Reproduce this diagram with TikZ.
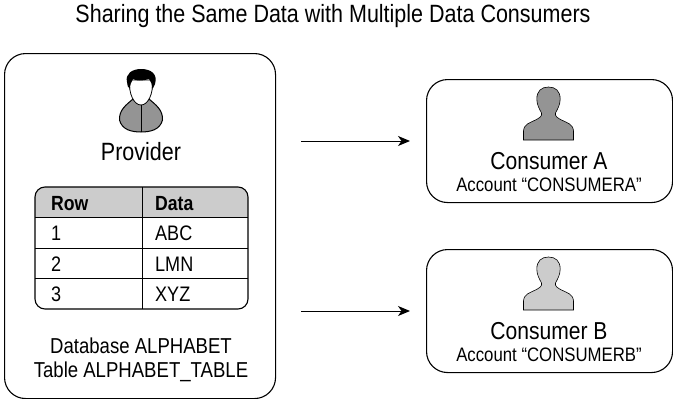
\documentclass[tikz,border=0pt]{standalone}
\usepackage{fontspec}
\setmainfont[FakeStretch=0.86]{Liberation Sans}
\usetikzlibrary{
	arrows.meta,
	calc,
	positioning,
}
\definecolor{darkfill}{gray}{.58}
\definecolor{lightfill}{gray}{.8}
\tikzset{panel/.style={draw,rounded corners=21,line width=1.1pt,inner sep=0,anchor=north west,}}
\tikzset{plain/.style={inner sep=0,font=\fontsize{24.5}{28}\selectfont,}}
\tikzset{small/.style={inner sep=0,font=\fontsize{19.5}{22}\selectfont,}}
\tikzset{cell/.style={inner sep=0,anchor=base west,font=\fontsize{21}{24}\selectfont,}}
\tikzset{head/.style={cell,font=\fontsize{20.5}{24}\selectfont\bfseries,}}
\tikzset{
	>={Stealth[length=12pt,width=10pt,inset=3.5pt]},
	x=1pt,
	y=-1pt,
	pics/consumer/.style={code={
		\draw[fill=#1,line width=.6pt] (-25,53) -- (-25,44) .. controls (-24.5,37) and (-19,36) .. (-13,33)
			.. controls (-9,31) and (-6,29) .. (-7,26) .. controls (-9,22) and (-11.7,18) .. (-11.7,12)
			.. controls (-11.7,4) and (-7,0) .. (0,0) .. controls (7,0) and (11.7,4) .. (11.7,12)
			.. controls (11.7,18) and (9,22) .. (7,26) .. controls (6,29) and (9,31) .. (13,33)
			.. controls (19,36) and (24.5,37) .. (25,44) -- (25,53) -- cycle;
	}},
}

\begin{document}
\begin{tikzpicture}
\useasboundingbox (0,0) rectangle (673,399);

\node[plain,font=\fontsize{25}{28}\selectfont] (title) at(333,16) {Sharing the Same Data with Multiple Data Consumers};

\node[panel,minimum width=271,minimum height=345] (provider) at(4,53) {};
\node[panel,minimum width=246,minimum height=123] (boxa) at(426,79) {};
\node[panel,minimum width=246,minimum height=123] (boxb) at(426,249) {};

% provider figure
\draw[fill=darkfill,line width=1pt] (119.5,120) .. controls (119,110) and (126,105) .. (133,99) -- (149,99)
	.. controls (156,105) and (163,110) .. (162.5,120) .. controls (160,130) and (150,132) .. (141,132)
	.. controls (132,132) and (122,130) .. (119.5,120) -- cycle;
\draw[line width=.8pt] (141,104) -- (141,132);
\draw[fill=white,line width=.8pt] (129.5,80) .. controls (128.5,94) and (134,105) .. (141,105)
	.. controls (148,105) and (153.5,94) .. (152.5,80) -- cycle;
\fill (127,82) .. controls (125,74) and (132,69) .. (141,69) .. controls (151,69) and (158,74) .. (155,84)
	.. controls (154,87) and (153,88) .. (152,89) .. controls (152,84) and (151,81) .. (149,79)
	.. controls (143,81) and (136,81) .. (133,79) .. controls (131,82) and (130,85) .. (130,89)
	.. controls (128,88) and (127,85) .. (127,82) -- cycle;
\node[plain,font=\fontsize{25}{28}\selectfont] (providername) at(141,152) {Provider};

% table
\begin{scope}
\clip[rounded corners=10] (35,187) rectangle (248,309);
\fill[lightfill] (35,187) rectangle (248,217);
\end{scope}
\draw[line width=1pt] (35,217) -- (248,217);
\draw[line width=1pt] (35,248) -- (248,248);
\draw[line width=1pt] (35,278) -- (248,278);
\draw[line width=1pt] (142,187) -- (142,309);
\draw[line width=1.1pt,rounded corners=10] (35,187) rectangle (248,309);

\node[head] (rowhead) at(51,210) {Row};
\node[head] (datahead) at(155,210) {Data};
\node[cell] (row1) at(51,240) {1};
\node[cell] (data1) at(155,240) {ABC};
\node[cell] (row2) at(51,271) {2};
\node[cell] (data2) at(155,271) {LMN};
\node[cell] (row3) at(51,301) {3};
\node[cell] (data3) at(155,301) {XYZ};

\node[small,font=\fontsize{21.6}{24}\selectfont] (dbname) at(141,346) {Database ALPHABET};
\node[small,font=\fontsize{21.6}{24}\selectfont] (tablename) at(141,372) {Table ALPHABET\_TABLE};

% consumers
\pic at(548.5,87) {consumer=darkfill};
\pic at(548.5,257) {consumer=lightfill};

\node[plain] (namea) at(549,161) {Consumer A};
\node[small] (accounta) at(549,185) {Account “CONSUMERA”};
\node[plain] (nameb) at(549,331) {Consumer B};
\node[small] (accountb) at(549,355) {Account “CONSUMERB”};

\coordinate (froma) at(301,141);
\coordinate (toa) at(410,141);
\coordinate (fromb) at(301,311);
\coordinate (tob) at(410,311);

\draw[->,line width=1pt] (froma) -- (toa);
\draw[->,line width=1pt] (fromb) -- (tob);

\end{tikzpicture}
\end{document}
